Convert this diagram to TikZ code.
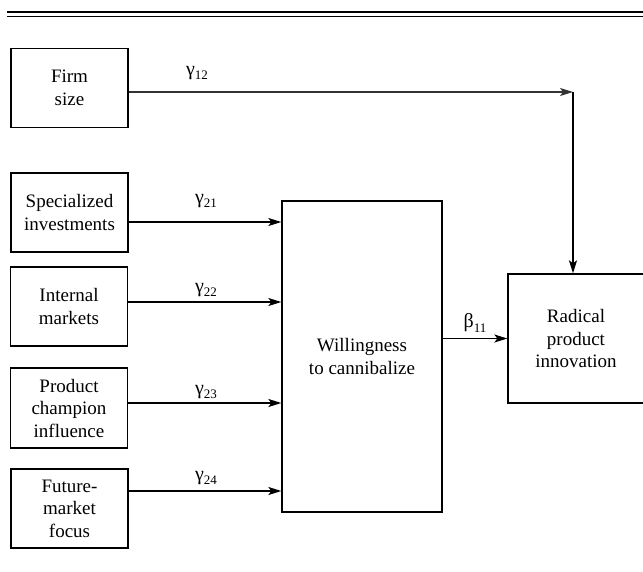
\documentclass[tikz,border=0pt]{standalone}
\usepackage{fontspec}
\setmainfont{Liberation Serif}
\usetikzlibrary{arrows.meta}
\newcommand\coefsub[1]{\raisebox{-0.45ex}{\fontsize{13}{13}\selectfont #1}}
\begin{document}
\begin{tikzpicture}[x=1pt,y=-1pt,
  box/.style={draw, line width=1.3pt, align=center, inner sep=0pt,
    font=\fontsize{19}{22.5}\selectfont},
  inbox/.style={box, minimum width=117pt, minimum height=79pt},
  link/.style={line width=1.3pt, -{Stealth[length=13pt,width=8pt,inset=3pt]}},
  coef/.style={font=\fontsize{20}{22}\selectfont, inner sep=0pt}]
\useasboundingbox (0,0) rectangle (643,571);

% double rule across the top
\draw[line width=2.4pt] (7,12) -- (643,12);
\draw[line width=1pt] (7,16) -- (643,16);

% exogenous constructs
\node[inbox] (firm) at (69.5,88)  {Firm\\size};
\node[inbox] (spec) at (69.5,212.5) {Specialized\\investments};
\node[inbox] (intm) at (69,306.5) {Internal\\markets};
\node[inbox, minimum height=80pt] (prod) at (69,408) {Product\\champion\\influence};
\node[inbox] (futr) at (69.5,508.5) {Future-\\market\\focus};

% mediator and outcome
\node[box, minimum width=160pt, minimum height=311pt] (will) at (362,356.5)
  {Willingness\\to cannibalize};
\node[box, minimum width=136pt, minimum height=129pt] (rad) at (576,338.5)
  {Radical\\product\\innovation};

% arrow start points on the input boxes
\coordinate (s1) at ([yshift=-4pt]firm.east);
\coordinate (s2) at ([yshift=-9.5pt]spec.east);
\coordinate (s3) at ([yshift=4.5pt]intm.east);
\coordinate (s4) at ([yshift=5pt]prod.east);
\coordinate (s5) at ([yshift=17.5pt]futr.east);
\coordinate (corner) at (573,92);

% paths
\draw[link, line width=1.1pt, draw=black!80] (s1) -- (corner);
\draw[link, line width=1.8pt] (corner) -- (corner |- rad.north);
\draw[link] (s2) -- (s2 -| will.west);
\draw[link] (s3) -- (s3 -| will.west);
\draw[link] (s4) -- (s4 -| will.west);
\draw[link] (s5) -- (s5 -| will.west);
\draw[link] (rad.west -| will.east) -- (rad.west);

% path coefficients
\node[coef] (g12) at (197,73)  {γ\coefsub{12}};
\node[coef] (g21) at (206,201) {γ\coefsub{21}};
\node[coef] (g22) at (206,290) {γ\coefsub{22}};
\node[coef] (g23) at (206,392) {γ\coefsub{23}};
\node[coef] (g24) at (206,478) {γ\coefsub{24}};
\node[coef] (b11) at (475,323) {β\coefsub{11}};
\end{tikzpicture}
\end{document}
